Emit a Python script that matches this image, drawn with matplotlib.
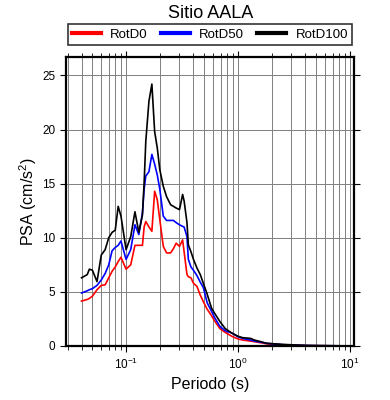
import numpy as np
import matplotlib
matplotlib.use('Agg')
import matplotlib.pyplot as plt
from matplotlib.ticker import LogLocator, MultipleLocator, NullFormatter

plt.rcParams['font.family'] = ['Liberation Sans', 'DejaVu Sans']
plt.rcParams['mathtext.fontset'] = 'custom'
plt.rcParams['mathtext.rm'] = 'Liberation Sans'
plt.rcParams['mathtext.it'] = 'Liberation Sans:italic'

title = 'Sitio AALA'
periods = [0.040, 0.045, 0.047, 0.050, 0.055, 0.060, 0.065, 0.070, 0.075, 0.080,
           0.085, 0.090, 0.100, 0.110, 0.120, 0.130, 0.140, 0.145, 0.150, 0.160,
           0.170, 0.180, 0.190, 0.200, 0.215, 0.230, 0.250, 0.265, 0.280, 0.300,
           0.320, 0.330, 0.350, 0.360, 0.380, 0.400, 0.430, 0.460, 0.490, 0.530,
           0.580, 0.620, 0.690, 0.770, 0.880, 1.000, 1.100, 1.300, 1.400, 1.600,
           1.800, 2.500, 4.000, 5.000, 7.500, 10.00]
rotd0 = [4.15, 4.3, 4.4, 4.6, 5.2, 5.6, 5.65, 6.3, 6.9, 7.3,
         7.8, 8.2, 7.1, 7.5, 9.3, 9.3, 9.3, 11.0, 11.5, 11.0,
         10.6, 14.3, 13.5, 11.7, 9.2, 8.6, 8.6, 9.0, 9.5, 9.2,
         9.8, 8.7, 6.6, 6.4, 6.3, 5.8, 5.5, 4.7, 4.1, 3.4,
         2.8, 2.3, 1.6, 1.25, 0.9, 0.65, 0.55, 0.45, 0.4, 0.3,
         0.2, 0.1, 0.04, 0.03, 0.015, 0.01]
rotd50 = [4.9, 5.1, 5.2, 5.3, 5.6, 6.1, 6.7, 7.5, 8.8, 9.1,
          9.3, 9.7, 8.0, 8.9, 11.2, 10.3, 12.3, 14.5, 15.7, 16.1,
          17.7, 16.8, 15.8, 14.5, 12.0, 11.6, 11.6, 11.6, 11.4, 11.2,
          11.05, 11.0, 10.1, 8.0, 7.3, 7.0, 6.5, 5.9, 5.4, 4.0,
          3.2, 2.6, 1.8, 1.4, 1.2, 0.85, 0.7, 0.55, 0.45, 0.35,
          0.25, 0.12, 0.05, 0.03, 0.02, 0.01]
rotd100 = [6.3, 6.6, 7.1, 7.0, 5.95, 8.4, 8.9, 10.0, 10.5, 10.7,
           12.9, 12.0, 8.9, 10.1, 12.4, 10.5, 12.1, 15.1, 18.9, 22.6,
           24.2, 19.8, 18.3, 16.3, 14.75, 13.8, 13.05, 12.9, 12.75, 12.6,
           14.0, 13.4, 11.4, 9.35, 8.7, 8.0, 7.2, 6.6, 5.8, 4.8,
           3.5, 3.0, 2.25, 1.6, 1.2, 0.9, 0.77, 0.7, 0.55, 0.4,
           0.25, 0.15, 0.05, 0.04, 0.02, 0.01]

fig = plt.figure(figsize=(3.9, 4.0), dpi=100)
ax = fig.add_axes([0.169, 0.135, 0.739, 0.7225])

ax.plot(periods, rotd0, color='red', lw=1.2, label='RotD0')
ax.plot(periods, rotd50, color='blue', lw=1.2, label='RotD50')
ax.plot(periods, rotd100, color='black', lw=1.2, label='RotD100')

ax.set_xscale('log')
ax.set_xlim(0.029, 10.9)
ax.set_ylim(0, 26.7)
ax.xaxis.set_major_locator(LogLocator(base=10))
ax.xaxis.set_minor_locator(LogLocator(base=10, subs=np.arange(2, 10)))
ax.xaxis.set_minor_formatter(NullFormatter())
ax.yaxis.set_major_locator(MultipleLocator(5))

ax.grid(True, which='both', axis='x', color='#808080', lw=0.7)
ax.grid(True, which='major', axis='y', color='#808080', lw=0.7)

for s in ax.spines.values():
    s.set_linewidth(1.6)
ax.tick_params(which='both', direction='out', top=True, right=True, labelsize=8.5)
ax.tick_params(which='major', length=4.5, width=0.8, pad=3)
ax.tick_params(which='minor', length=3, width=0.6)

ax.set_xlabel('Periodo (s)', fontsize=11.5, labelpad=4)
ax.set_ylabel('PSA (cm/s$^2$)', fontsize=11.5, labelpad=2)
fig.text(0.541, 0.965, title, fontsize=13, ha='center', va='center')

leg = ax.legend(loc='lower center', bbox_to_anchor=(0.5, 1.02), ncol=3,
                fontsize=9.5, frameon=True, fancybox=False, edgecolor='black',
                handlelength=2.2, handleheight=0.7, columnspacing=1.0,
                borderpad=0.3, handletextpad=0.7)
leg.get_frame().set_linewidth(1.2)
for line in leg.get_lines():
    line.set_linewidth(3)

fig.savefig('out.png', dpi=100)
